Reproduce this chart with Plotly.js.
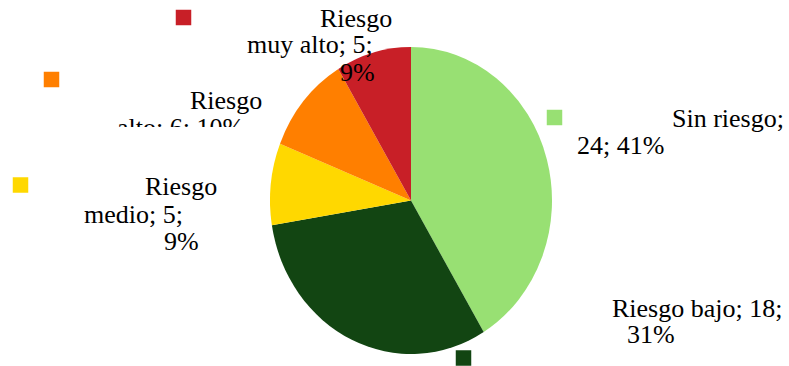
<!DOCTYPE html>
<html><head><meta charset="utf-8">
<script src="https://cdn.plot.ly/plotly-3.0.1.min.js"></script>
<style>
html,body{margin:0;padding:0;background:#fff;}
#wrap{position:relative;width:789px;height:366px;overflow:hidden;}
#pie,#labels{position:absolute;left:0;top:0;width:789px;height:366px;}
#pie{transform:scaleY(1.0887);transform-origin:411px 200.5px;}
</style></head><body>
<div id="wrap"><div id="pie"></div><div id="labels"></div></div>
<script>
// ---- data ----
const categories = ["Sin riesgo", "Riesgo bajo", "Riesgo medio", "Riesgo alto", "Riesgo muy alto"];
const counts = [24, 18, 5, 6, 5];
const sliceColors = ["#98E073", "#124512", "#FFD800", "#FF7F00", "#C81F27"];

// ---- label placement (layout only, pixel coords) ----
const keyX = [554.5, 463.5, 20.5, 51.5, 183.5];
const keyY = [117.5, 358, 185, 79.5, 17.5];
const lineWords = [[2, 2], [3, 1], [1, 2, 1], [1, 3], [1, 3, 1]];
const lineLeft = [[672, 577], [612, 627], [145, 84, 164], [190, 117], [320, 247, 340]];
const lineBase = [[127, 154], [317, 343], [195, 223, 250], [109, 136], [27, 53, 81]];

const SERIF = "Liberation Serif";

Plotly.newPlot("pie", [{
  type: "pie",
  labels: categories,
  values: counts,
  sort: false,
  direction: "clockwise",
  rotation: 0,
  marker: {colors: sliceColors, line: {width: 0}},
  textinfo: "none",
  hoverinfo: "skip",
  showlegend: false,
  domain: {x: [270 / 789, 552 / 789], y: [24.5 / 366, 306.5 / 366]}
}], {
  width: 789, height: 366,
  margin: {l: 0, r: 0, t: 0, b: 0},
  paper_bgcolor: "#fff",
  font: {family: SERIF},
  showlegend: false
}, {displayModeBar: false});

const total = counts.reduce((a, b) => a + b, 0);
const annotations = [];
categories.forEach((cat, i) => {
  const pct = Math.round(counts[i] / total * 100);
  const words = `${cat}; ${counts[i]}; ${pct}%`.split(" ");
  let k = 0;
  lineWords[i].forEach((n, j) => {
    const txt = words.slice(k, k + n).join(" ");
    k += n;
    annotations.push({
      xref: "paper", yref: "paper",
      x: (lineLeft[i][j] - 2) / 789, y: 1 - (lineBase[i][j] - 8.8) / 366,
      xanchor: "left", yanchor: "middle",
      text: txt, showarrow: false,
      font: {family: SERIF, size: 26, color: "#000000"}
    });
  });
});
// clipped area of the "Riesgo alto" label
annotations.push({
  xref: "paper", yref: "paper", x: 105 / 789, y: 1 - 126.5 / 366, xanchor: "left", yanchor: "top",
  width: 150, height: 22, text: " ", showarrow: false,
  bgcolor: "#ffffff", borderwidth: 0, borderpad: 0
});

Plotly.newPlot("labels", [{
  type: "scatter", mode: "markers",
  x: keyX, y: keyY,
  marker: {symbol: "square", size: 15.5, color: sliceColors},
  hoverinfo: "skip", showlegend: false, cliponaxis: false
}], {
  width: 789, height: 366,
  margin: {l: 0, r: 0, t: 0, b: 0},
  paper_bgcolor: "rgba(0,0,0,0)", plot_bgcolor: "rgba(0,0,0,0)",
  font: {family: SERIF, size: 26, color: "#000000"},
  xaxis: {range: [0, 789], visible: false, fixedrange: true},
  yaxis: {range: [366, 0], visible: false, fixedrange: true},
  annotations: annotations,
  showlegend: false
}, {displayModeBar: false});
</script>
</body></html>
